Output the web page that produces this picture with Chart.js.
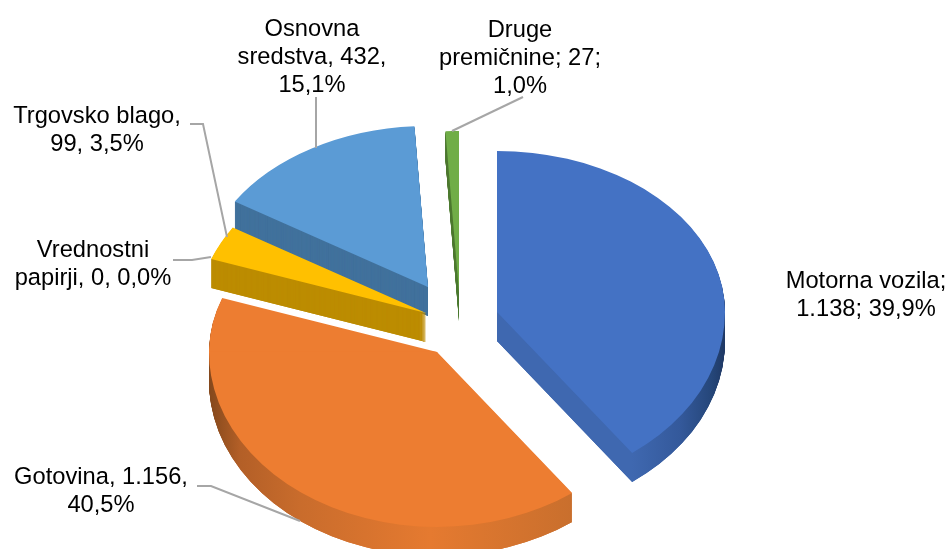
<!DOCTYPE html>
<html>
<head>
<meta charset="utf-8">
<title>Pie</title>
<script src="https://cdn.jsdelivr.net/npm/chart.js@4/dist/chart.umd.min.js"></script>
<style>
  html, body { margin: 0; padding: 0; background: #fff; overflow: hidden; }
  canvas { display: block; }
</style>
</head>
<body>
<canvas id="pieChart" width="951" height="549"></canvas>
<script>
// data
const categories = ['Motorna vozila', 'Gotovina', 'Vrednostni papirji', 'Trgovsko blago', 'Osnovna sredstva', 'Druge premičnine'];
const values = [1138, 1156, 0, 99, 432, 27];
const labelLines = [
  ['Motorna vozila;', '1.138; 39,9%'],
  ['Gotovina, 1.156,', '40,5%'],
  ['Vrednostni', 'papirji, 0, 0,0%'],
  ['Trgovsko blago,', '99, 3,5%'],
  ['Osnovna', 'sredstva, 432,', '15,1%'],
  ['Druge', 'premičnine; 27;', '1,0%']
];

// styling
const colors = ['#4472C4', '#ED7D31', '#A5A5A5', '#FFC000', '#5B9BD5', '#70AD47'];
const wallStops = [
  [[632, '#3F68B0'], [680, '#34599B'], [712, '#254679'], [725, '#1F3864']],
  [[209, '#84481C'], [240, '#B35F27'], [300, '#C96C2C'], [430, '#E57A30'], [572, '#C96F2D']],
  [[0, '#7C7C7C']],
  [[0, '#BC8C00']],
  [[0, '#41719C']],
  [[0, '#4E7A32']]
];
const explode = [[37, -10], [-23, 30], [0, 0], [-34, -9], [-32, -35], [-1, -30]];
const drawOrder = [5, 4, 3, 2, 0, 1];
const depth = 29;
const scaleTop = 161 / 228;
const scaleBottom = 175 / 228;
const labelPos = [[866, 281], [101, 477], [93, 250], [97, 116], [312, 29], [520, 30]];
const leaders = [
  [[197, 486], [211, 486], [300, 521]],
  [[173, 260], [192, 260], [211, 257]],
  [[190, 124], [203, 124], [227, 237]],
  [[316, 97], [316, 148]],
  [[523, 97], [452, 131]]
];

function wallFill(ctx, i, dx) {
  const stops = wallStops[i];
  if (stops.length === 1) return stops[0][1];
  const x0 = stops[0][0] - dx;
  const x1 = stops[stops.length - 1][0] - dx;
  const g = ctx.createLinearGradient(x0, 0, x1, 0);
  stops.forEach(s => g.addColorStop((s[0] - dx - x0) / (x1 - x0), s[1]));
  return g;
}

// top half and bottom half get a different squash, which gives the perspective look
function drawSlice(ctx, arc, i, shift, fill) {
  const base = arc.options;
  const dx = explode[i][0];
  const apexY = arc.y + explode[i][1] + shift;
  arc.options = Object.assign({}, base, { backgroundColor: fill });
  [[scaleTop, apexY - 400, 400.5], [scaleBottom, apexY - 0.5, 400]].forEach(part => {
    ctx.save();
    ctx.beginPath();
    ctx.rect(0, part[1], 951, part[2]);
    ctx.clip();
    ctx.translate(arc.x + dx, apexY);
    ctx.scale(1, part[0]);
    ctx.translate(-arc.x, -arc.y);
    arc.draw(ctx);
    ctx.restore();
  });
  arc.options = base;
}

const pie3d = {
  id: 'pie3d',
  beforeDatasetDraw(chart, args) {
    const ctx = chart.ctx;
    drawOrder.forEach(i => {
      const arc = args.meta.data[i];
      const wall = wallFill(ctx, i, explode[i][0]);
      // every step twice so the thin tips of the walls fill in solid
      for (let s = depth; s > 0; s--) {
        drawSlice(ctx, arc, i, s, wall);
        drawSlice(ctx, arc, i, s, wall);
      }
      drawSlice(ctx, arc, i, 0, colors[i]);
    });
    return false;
  },
  afterDraw(chart) {
    const ctx = chart.ctx;
    ctx.save();
    ctx.strokeStyle = '#A6A6A6';
    ctx.lineWidth = 2;
    leaders.forEach(line => {
      ctx.beginPath();
      line.forEach((p, n) => n ? ctx.lineTo(p[0], p[1]) : ctx.moveTo(p[0], p[1]));
      ctx.stroke();
    });
    ctx.fillStyle = '#000';
    ctx.font = '23.7px "Liberation Sans"';
    ctx.textAlign = 'center';
    ctx.textBaseline = 'middle';
    labelLines.forEach((lines, i) => {
      lines.forEach((t, n) => ctx.fillText(t, labelPos[i][0], labelPos[i][1] + n * 28));
    });
    ctx.restore();
  }
};

new Chart(document.getElementById('pieChart').getContext('2d'), {
  type: 'pie',
  data: {
    labels: categories,
    datasets: [{
      data: values,
      backgroundColor: colors,
      borderWidth: 0,
      clip: false
    }]
  },
  options: {
    responsive: false,
    animation: false,
    events: [],
    radius: 228,
    layout: { padding: { right: 31, top: 95 } },
    plugins: { legend: { display: false }, tooltip: { enabled: false } }
  },
  plugins: [pie3d]
});
</script>
</body>
</html>
